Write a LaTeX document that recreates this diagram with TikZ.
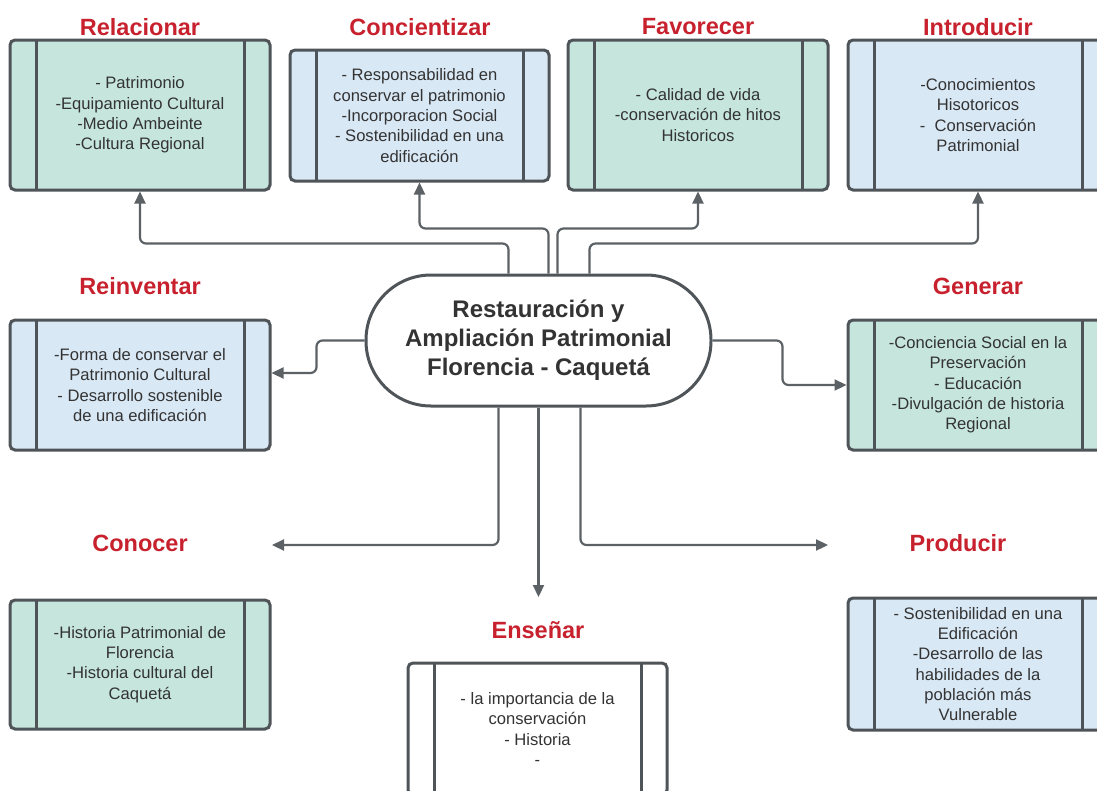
\documentclass[tikz,border=0pt]{standalone}
\usepackage{fontspec}
\setmainfont{Liberation Sans}
\usetikzlibrary{arrows.meta}

\definecolor{borde}{HTML}{4F5459}
\definecolor{verde}{HTML}{C6E6DD}
\definecolor{azul}{HTML}{D9E8F5}
\definecolor{rojo}{HTML}{C8212E}
\definecolor{linea}{HTML}{5C6166}
\definecolor{texto}{HTML}{333333}

\begin{document}
\begin{tikzpicture}[x=1pt,y=-1pt]
	\tikzstyle{titulo}=[text=rojo, font=\bfseries\fontsize{23.5}{28}\selectfont, inner sep=0pt]
	\tikzstyle{caja}=[draw=borde, line width=3pt, rounded corners=5pt, minimum width=260pt, align=center, text=texto, font=\fontsize{16.6}{20.3}\selectfont, path picture={
		\draw[borde, line width=3pt] ([xshift=26pt]path picture bounding box.north west) -- ([xshift=26pt]path picture bounding box.south west);
		\draw[borde, line width=3pt] ([xshift=-26pt]path picture bounding box.north east) -- ([xshift=-26pt]path picture bounding box.south east);}]
	\tikzstyle{flecha}=[draw=linea, line width=2.2pt, rounded corners=6pt, -{Triangle[length=12pt,width=11pt]}]
	\useasboundingbox (0,0) rectangle (1097,790);
	% titulos
	\draw (140,27) node (tRel) [titulo] {Relacionar};
	\draw (420,27) node (tCon) [titulo] {Concientizar};
	\draw (698,27) node (tFav) [titulo] {Favorecer};
	\draw (978,27) node (tInt) [titulo] {Introducir};
	\draw (140,286) node (tRei) [titulo] {Reinventar};
	\draw (978,286) node (tGen) [titulo] {Generar};
	\draw (140,543) node (tCono) [titulo] {Conocer};
	\draw (958,543) node (tPro) [titulo] {Producir};
	\draw (538,630) node (tEns) [titulo] {Enseñar};
	% cajas
	\draw (140,115) node (bRel) [caja, fill=verde, minimum height=150pt] {- Patrimonio\\-Equipamiento Cultural\\-Medio Ambeinte\\-Cultura Regional};
	\draw (419.5,115.5) node (bCon) [caja, fill=azul, minimum width=259pt, minimum height=131pt] {- Responsabilidad en\\conservar el patrimonio\\-Incorporacion Social\\- Sostenibilidad en una\\edificación};
	\draw (698,115) node (bFav) [caja, fill=verde, minimum height=150pt] {- Calidad de vida\\-conservación de hitos\\Historicos};
	\draw (978,115) node (bInt) [caja, fill=azul, minimum height=150pt] {-Conocimientos\\Hisotoricos\\- \ Conservación\\Patrimonial};
	\draw (140,385) node (bRei) [caja, fill=azul, minimum height=130pt] {-Forma de conservar el\\Patrimonio Cultural\\- Desarrollo sostenible\\de una edificación};
	\draw (978,385) node (bGen) [caja, fill=verde, minimum height=130pt] {-Conciencia Social en la\\Preservación\\- Educación\\-Divulgación de historia\\Regional};
	\draw (140,664.5) node (bCono) [caja, fill=verde, minimum height=129pt] {-Historia Patrimonial de\\Florencia\\-Historia cultural del\\Caquetá};
	\draw (978,664) node (bPro) [caja, fill=azul, minimum height=132pt] {- Sostenibilidad en una\\Edificación\\-Desarrollo de las\\habilidades de la\\población más\\Vulnerable};
	\draw (537.5,729) node (bEns) [caja, fill=white, minimum width=259pt, minimum height=132pt] {- la importancia de la\\conservación\\- Historia\\-};
	% centro
	\draw (538.5,340.5) node (centro) [draw=borde, line width=3pt, rounded corners=65pt, minimum width=345pt, minimum height=131pt, fill=white, align=center, text=black!80, font=\bfseries\fontsize{24}{29}\selectfont] {Restauración y\\Ampliación Patrimonial\\Florencia - Caquetá};
	\coordinate (pCono) at (272,545);
	\coordinate (pPro) at (828,545);
	\coordinate (pEns) at (538.5,597);
	% conectores
	\draw[flecha] ([xshift=-30pt]centro.north) -- ++(0,-30) -| (bRel.south);
	\draw[flecha] ([xshift=10pt]centro.north) -- ++(0,-45) -| (bCon.south);
	\draw[flecha] ([xshift=19pt]centro.north) -- ++(0,-45) -| (bFav.south);
	\draw[flecha] ([xshift=51pt]centro.north) -- ++(0,-30) -| (bInt.south);
	\draw[flecha] (centro.west) -- ++(-48,0) |- ([yshift=12pt]bRei.east);
	\draw[flecha] (centro.east) -- ++(70,0) |- (bGen.west);
	\draw[flecha] ([xshift=-40pt]centro.south) |- (pCono);
	\draw[flecha] (centro.south) -- (pEns);
	\draw[flecha] ([xshift=42pt]centro.south) |- (pPro);
\end{tikzpicture}
\end{document}
